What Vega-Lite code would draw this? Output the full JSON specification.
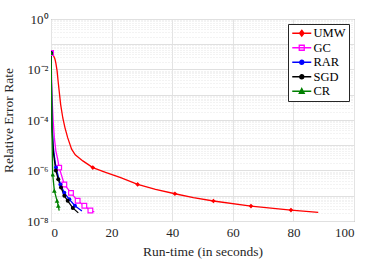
{
  "$schema": "https://vega.github.io/schema/vega-lite/v6.json",
  "autosize": "none",
  "width": 303,
  "height": 202,
  "padding": {"left": 51, "top": 19, "right": 36, "bottom": 38},
  "background": "white",
  "config": {
    "font": "Liberation Serif, DejaVu Serif, serif",
    "view": {"stroke": "#7f7f7f", "strokeWidth": 1},
    "style": {"guide-label": {"font": "Liberation Serif, DejaVu Serif, serif"}, "guide-title": {"font": "Liberation Serif, DejaVu Serif, serif"}},
    "axis": {"labelFont": "Liberation Serif, DejaVu Serif, serif", "titleFont": "Liberation Serif, DejaVu Serif, serif", "labelColor": "#262626", "titleColor": "#262626", "titleFontWeight": "normal", "labelFontSize": 13, "titleFontSize": 13.5, "domain": false, "ticks": false},
    "legend": {"labelFont": "Liberation Serif, DejaVu Serif, serif"}
  },
  "datasets": {
    "curves": [
      {"method": "UMW", "t": 0, "err": 0.045},
      {"method": "UMW", "t": 0.5, "err": 0.044},
      {"method": "UMW", "t": 1.3, "err": 0.026},
      {"method": "UMW", "t": 1.6, "err": 0.018},
      {"method": "UMW", "t": 2.0, "err": 0.009},
      {"method": "UMW", "t": 2.4, "err": 0.003},
      {"method": "UMW", "t": 2.7, "err": 0.0014},
      {"method": "UMW", "t": 3.2, "err": 0.0004},
      {"method": "UMW", "t": 3.9, "err": 0.00012},
      {"method": "UMW", "t": 4.6, "err": 0.00005},
      {"method": "UMW", "t": 5.5, "err": 0.00002},
      {"method": "UMW", "t": 6.8, "err": 0.000007},
      {"method": "UMW", "t": 8.0, "err": 0.0000042},
      {"method": "UMW", "t": 10.5, "err": 0.0000024},
      {"method": "UMW", "t": 13.8, "err": 0.0000013},
      {"method": "UMW", "t": 18, "err": 0.00000085},
      {"method": "UMW", "t": 23, "err": 0.00000052},
      {"method": "UMW", "t": 28.6, "err": 0.00000028},
      {"method": "UMW", "t": 34.5, "err": 0.00000018},
      {"method": "UMW", "t": 40.9, "err": 0.00000012},
      {"method": "UMW", "t": 47, "err": 0.000000085},
      {"method": "UMW", "t": 53.6, "err": 0.000000062},
      {"method": "UMW", "t": 66, "err": 0.000000039},
      {"method": "UMW", "t": 79.2, "err": 0.000000027},
      {"method": "UMW", "t": 88.2, "err": 0.000000022},
      {"method": "GC", "t": 0, "err": 0.045},
      {"method": "GC", "t": 0.3, "err": 0.001},
      {"method": "GC", "t": 0.7, "err": 0.0001},
      {"method": "GC", "t": 1.1, "err": 0.00002},
      {"method": "GC", "t": 1.6, "err": 0.000006},
      {"method": "GC", "t": 2.2, "err": 0.0000028},
      {"method": "GC", "t": 2.7, "err": 0.0000013},
      {"method": "GC", "t": 4.4, "err": 0.00000028},
      {"method": "GC", "t": 6.6, "err": 0.00000013},
      {"method": "GC", "t": 8.8, "err": 0.000000063},
      {"method": "GC", "t": 11, "err": 0.00000004},
      {"method": "GC", "t": 13, "err": 0.000000026},
      {"method": "GC", "t": 14.3, "err": 0.000000023},
      {"method": "RAR", "t": 0, "err": 0.045},
      {"method": "RAR", "t": 0.3, "err": 0.0001},
      {"method": "RAR", "t": 0.7, "err": 0.00001},
      {"method": "RAR", "t": 1.2, "err": 0.000003},
      {"method": "RAR", "t": 1.65, "err": 0.0000013},
      {"method": "RAR", "t": 3.1, "err": 0.00000028},
      {"method": "RAR", "t": 4.4, "err": 0.00000013},
      {"method": "RAR", "t": 6.05, "err": 0.000000072},
      {"method": "RAR", "t": 7.9, "err": 0.00000004},
      {"method": "RAR", "t": 10.2, "err": 0.000000025},
      {"method": "SGD", "t": 0, "err": 0.045},
      {"method": "SGD", "t": 0.3, "err": 0.00005},
      {"method": "SGD", "t": 0.8, "err": 0.000005},
      {"method": "SGD", "t": 1.6, "err": 0.000001},
      {"method": "SGD", "t": 2.4, "err": 0.00000045},
      {"method": "SGD", "t": 3.3, "err": 0.00000021},
      {"method": "SGD", "t": 4.4, "err": 0.0000001},
      {"method": "SGD", "t": 5.5, "err": 0.000000063},
      {"method": "SGD", "t": 7.2, "err": 0.000000033},
      {"method": "SGD", "t": 9, "err": 0.000000021},
      {"method": "CR", "t": 0, "err": 0.045},
      {"method": "CR", "t": 0.2, "err": 0.001},
      {"method": "CR", "t": 0.4, "err": 0.00001},
      {"method": "CR", "t": 0.56, "err": 0.0000007},
      {"method": "CR", "t": 1.1, "err": 0.00000016},
      {"method": "CR", "t": 2.0, "err": 0.000000063},
      {"method": "CR", "t": 2.4, "err": 0.00000004},
      {"method": "CR", "t": 2.7, "err": 0.000000026}
    ],
    "markers": [
      {"method": "UMW", "t": 0, "err": 0.045},
      {"method": "UMW", "t": 13.8, "err": 0.0000013},
      {"method": "UMW", "t": 28.6, "err": 0.00000028},
      {"method": "UMW", "t": 40.9, "err": 0.00000012},
      {"method": "UMW", "t": 53.6, "err": 0.000000062},
      {"method": "UMW", "t": 66, "err": 0.000000039},
      {"method": "UMW", "t": 79.2, "err": 0.000000027},
      {"method": "GC", "t": 0, "err": 0.045},
      {"method": "GC", "t": 2.7, "err": 0.0000013},
      {"method": "GC", "t": 4.4, "err": 0.00000028},
      {"method": "GC", "t": 6.6, "err": 0.00000013},
      {"method": "GC", "t": 8.8, "err": 0.000000063},
      {"method": "GC", "t": 11, "err": 0.00000004},
      {"method": "GC", "t": 13, "err": 0.000000026},
      {"method": "RAR", "t": 0, "err": 0.045},
      {"method": "RAR", "t": 1.65, "err": 0.0000013},
      {"method": "RAR", "t": 3.1, "err": 0.00000028},
      {"method": "RAR", "t": 4.4, "err": 0.00000013},
      {"method": "RAR", "t": 6.05, "err": 0.000000072},
      {"method": "RAR", "t": 7.9, "err": 0.00000004},
      {"method": "SGD", "t": 0, "err": 0.045},
      {"method": "SGD", "t": 1.6, "err": 0.000001},
      {"method": "SGD", "t": 2.4, "err": 0.00000045},
      {"method": "SGD", "t": 3.3, "err": 0.00000021},
      {"method": "SGD", "t": 4.4, "err": 0.0000001},
      {"method": "SGD", "t": 5.5, "err": 0.000000063},
      {"method": "SGD", "t": 7.2, "err": 0.000000033},
      {"method": "CR", "t": 0, "err": 0.045},
      {"method": "CR", "t": 0.56, "err": 0.0000007},
      {"method": "CR", "t": 1.1, "err": 0.00000016},
      {"method": "CR", "t": 2.0, "err": 0.000000063},
      {"method": "CR", "t": 2.4, "err": 0.00000004}
    ]
  },
  "encoding": {
    "x": {
      "field": "t", "type": "quantitative",
      "scale": {"domain": [0, 100], "nice": false},
      "axis": {"title": "Run-time (in seconds)", "labelFont": "Liberation Serif", "titleFont": "Liberation Serif", "values": [0, 20, 40, 60, 80, 100], "gridColor": "#e3e3e3", "labelPadding": 5, "titlePadding": 5}
    },
    "y": {
      "field": "err", "type": "quantitative",
      "scale": {"type": "log", "domain": [1e-8, 1], "nice": false},
      "axis": {
        "title": "Relative Error Rate",
        "labelFont": "Liberation Serif",
        "titleFont": "Liberation Serif",
        "titleX": -36,
        "labelPadding": 3,
        "labelOverlap": false,
        "labelBound": false,
        "values": [1e-8,2e-8,3e-8,4e-8,5e-8,6e-8,7e-8,8e-8,9e-8,1e-7,2e-7,3e-7,4e-7,5e-7,6e-7,7e-7,8e-7,9e-7,1e-6,2e-6,3e-6,4e-6,5e-6,6e-6,7e-6,8e-6,9e-6,1e-5,2e-5,3e-5,4e-5,5e-5,6e-5,7e-5,8e-5,9e-5,1e-4,2e-4,3e-4,4e-4,5e-4,6e-4,7e-4,8e-4,9e-4,1e-3,2e-3,3e-3,4e-3,5e-3,6e-3,7e-3,8e-3,9e-3,1e-2,2e-2,3e-2,4e-2,5e-2,6e-2,7e-2,8e-2,9e-2,1e-1,2e-1,3e-1,4e-1,5e-1,6e-1,7e-1,8e-1,9e-1,1],
        "labelExpr": "abs(log(datum.value)/LN10 - round(log(datum.value)/LN10)) > 1e-6 ? '' : (round(log(datum.value)/LN10) == 0 ? '10⁰' : round(log(datum.value)/LN10) == -2 ? '10⁻²' : round(log(datum.value)/LN10) == -4 ? '10⁻⁴' : round(log(datum.value)/LN10) == -6 ? '10⁻⁶' : round(log(datum.value)/LN10) == -8 ? '10⁻⁸' : '')",
        "gridDash": {"condition": {"test": "abs(log(datum.value)/LN10 - round(log(datum.value)/LN10)) < 1e-6", "value": []}, "value": [1, 2]},
        "gridColor": {"condition": {"test": "abs(log(datum.value)/LN10 - round(log(datum.value)/LN10)) < 1e-6", "value": "#e0e0e0"}, "value": "#e6e6e6"}
      }
    }
  },
  "layer": [
    {
      "data": {"name": "curves"},
      "mark": {"type": "line", "strokeWidth": 1.3, "clip": true},
      "encoding": {
        "stroke": {
          "field": "method", "type": "nominal",
          "scale": {"domain": ["UMW", "GC", "RAR", "SGD", "CR"], "range": ["#ff0000", "#ff00ff", "#0000ff", "#000000", "#008000"]},
          "legend": {
            "title": null,
            "orient": "top-right",
            "offset": 5,
            "fillColor": "white",
            "strokeColor": "#262626",
            "padding": 3,
            "rowPadding": 1.5,
            "labelFont": "Liberation Serif",
            "labelFontSize": 12.5,
            "labelColor": "#000000",
            "labelOffset": 10,
            "symbolSize": 100,
            "symbolStrokeWidth": 1.3,
            "encode": {
              "symbols": {
                "update": {
                  "shape": {"signal": "datum.value == 'UMW' ? 'M-1,0H2.8M0.9,-0.6L1.35,0L0.9,0.6L0.45,0Z' : datum.value == 'GC' ? 'M-1,0H2.8M0.4,-0.5H1.4V0.5H0.4Z' : datum.value == 'CR' ? 'M-1,0H2.8M0.9,-0.55L1.4,0.4H0.4Z' : 'M-1,0H2.8M0.5,0A0.4,0.4 0 1,0 1.3,0A0.4,0.4 0 1,0 0.5,0Z'"},
                  "fill": {"signal": "datum.value == 'GC' ? 'white' : scale('stroke', datum.value)"},
                  "fillOpacity": {"value": 1}
                }
              }
            }
          }
        },
        "order": {"field": "t", "type": "quantitative"}
      }
    },
    {
      "data": {"name": "markers"},
      "transform": [{"filter": "datum.method == 'UMW'"}],
      "mark": {"type": "point", "shape": "diamond", "filled": true, "color": "#ff0000", "size": 22, "opacity": 1, "clip": true}
    },
    {
      "data": {"name": "markers"},
      "transform": [{"filter": "datum.method == 'GC'"}],
      "mark": {"type": "point", "shape": "square", "filled": false, "stroke": "#ff00ff", "fill": "white", "fillOpacity": 1, "strokeWidth": 1.2, "size": 22, "opacity": 1, "clip": true}
    },
    {
      "data": {"name": "markers"},
      "transform": [{"filter": "datum.method == 'RAR'"}],
      "mark": {"type": "point", "shape": "circle", "filled": true, "color": "#0000ff", "size": 16, "opacity": 1, "clip": true}
    },
    {
      "data": {"name": "markers"},
      "transform": [{"filter": "datum.method == 'SGD'"}],
      "mark": {"type": "point", "shape": "circle", "filled": true, "color": "#000000", "size": 16, "opacity": 1, "clip": true}
    },
    {
      "data": {"name": "markers"},
      "transform": [{"filter": "datum.method == 'CR'"}],
      "mark": {"type": "point", "shape": "triangle-up", "filled": true, "color": "#008000", "size": 22, "opacity": 1, "clip": true}
    }
  ]
}
